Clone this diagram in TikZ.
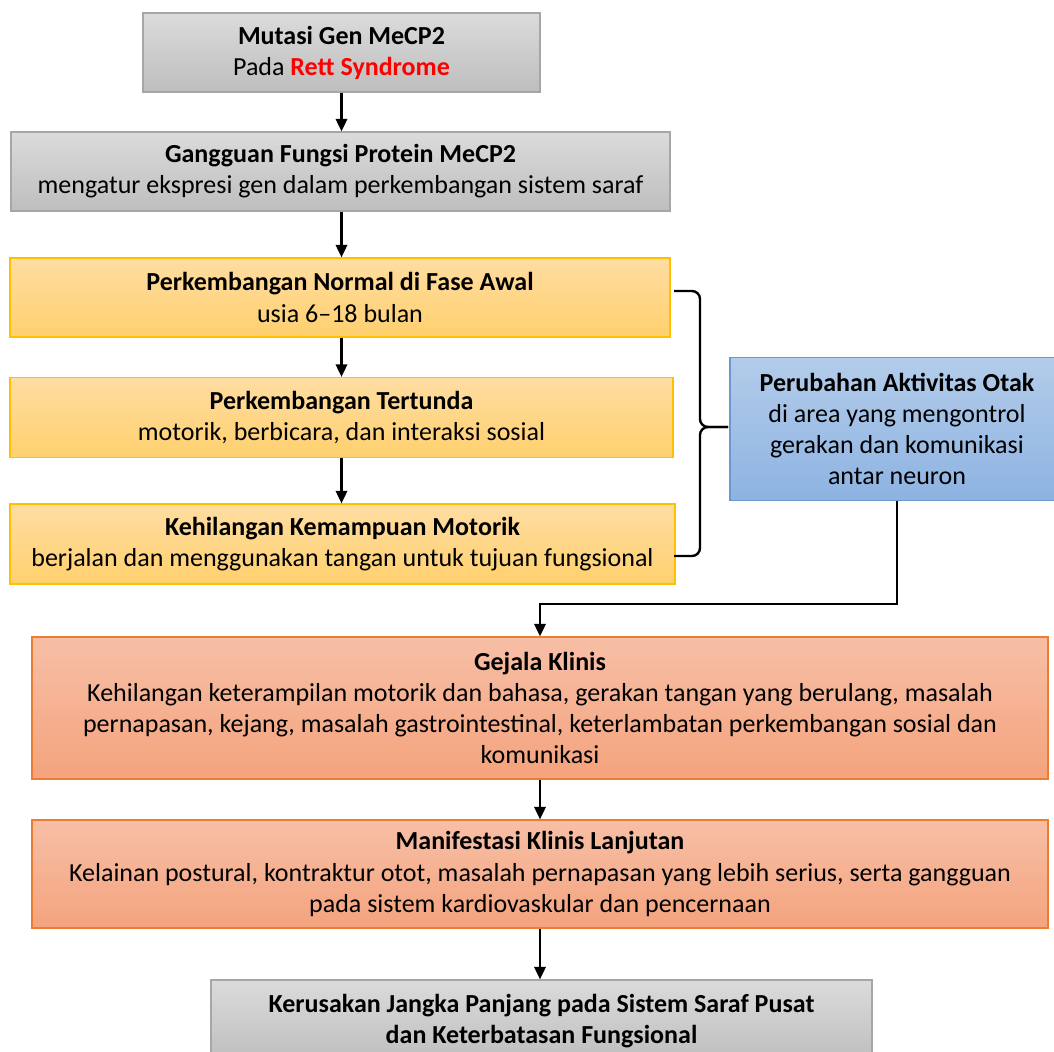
\documentclass[tikz,border=0pt]{standalone}
\usepackage{fontspec}
\setmainfont{Carlito}
\usetikzlibrary{positioning,arrows.meta}
\definecolor{greyA}{HTML}{DBDBDB}
\definecolor{greyB}{HTML}{BEBEBE}
\definecolor{greyL}{HTML}{A6A6A6}
\definecolor{yelA}{HTML}{FFDDA2}
\definecolor{yelB}{HTML}{FFD06E}
\definecolor{yelL}{HTML}{FFC000}
\definecolor{bluA}{HTML}{B3CCEA}
\definecolor{bluB}{HTML}{8DB3E2}
\definecolor{bluL}{HTML}{6D98CF}
\definecolor{salA}{HTML}{F7BFA6}
\definecolor{salB}{HTML}{F4A37D}
\definecolor{salL}{HTML}{ED7D31}

\begin{document}
\begin{tikzpicture}[x=0.75pt,y=-0.75pt,
box/.style={rectangle,draw,align=center,inner sep=0pt,line width=0.8pt,font=\fontsize{19.5}{23.3}\selectfont},
grey/.style={box,draw=greyL,top color=greyA,bottom color=greyB},
yel/.style={box,draw=yelL,top color=yelA,bottom color=yelB},
blu/.style={box,draw=bluL,top color=bluA,bottom color=bluB},
sal/.style={box,draw=salL,top color=salA,bottom color=salB},
arr/.style={-{Triangle[length=9.5pt,width=8.5pt]},line width=1.9pt},
brace/.style={line width=1.8pt,rounded corners=6pt}]
\useasboundingbox (0,0) rectangle (1054,1052);
\node [grey,minimum width=297.75pt,minimum height=59.25pt] (m) at (341.5,52.5)
	{\textbf{Mutasi Gen MeCP2}\\Pada \textcolor{red}{\textbf{Rett Syndrome}}};
\node [grey,minimum width=494.25pt,minimum height=59.25pt] (g) at (340.5,171.5)
	{\textbf{Gangguan Fungsi Protein MeCP2}\\mengatur ekspresi gen dalam perkembangan sistem saraf};
\node [yel,minimum width=495pt,minimum height=59.25pt] (p1) at (340,297.5)
	{\textbf{Perkembangan Normal di Fase Awal}\\usia 6--18 bulan};
\node [yel,minimum width=497.25pt,minimum height=60pt] (p2) at (341.5,417.5)
	{\textbf{Perkembangan Tertunda}\\motorik, berbicara, dan interaksi sosial};
\node [yel,minimum width=498.75pt,minimum height=60pt] (p3) at (342.5,544)
	{\textbf{Kehilangan Kemampuan Motorik}\\berjalan dan menggunakan tangan untuk tujuan fungsional};
\node [blu,minimum width=250.5pt,minimum height=107.25pt] (o) at (897,429)
	{\textbf{Perubahan Aktivitas Otak}\\di area yang mengontrol\\gerakan dan komunikasi\\antar neuron};
\node [sal,minimum width=762pt,minimum height=106.5pt] (k) at (540,708)
	{\textbf{Gejala Klinis}\\Kehilangan keterampilan motorik dan bahasa, gerakan tangan yang berulang, masalah\\pernapasan, kejang, masalah gastrointestinal, keterlambatan perkembangan sosial dan\\komunikasi};
\node [sal,minimum width=762pt,minimum height=81pt] (l) at (540,874)
	{\textbf{Manifestasi Klinis Lanjutan}\\Kelainan postural, kontraktur otot, masalah pernapasan yang lebih serius, serta gangguan\\pada sistem kardiovaskular dan pencernaan};
\node [grey,minimum width=495.75pt,minimum height=61.5pt] (s) at (541.5,1021)
	{\textbf{Kerusakan Jangka Panjang pada Sistem Saraf Pusat}\\\textbf{dan Keterbatasan Fungsional}};
% arrows
\draw[arr] (m.south) -- (m.south |- g.north);
\draw[arr] (m.south |- g.south) -- (m.south |- p1.north);
\draw[arr] (m.south |- p1.south) -- (m.south |- p2.north);
\draw[arr] (m.south |- p2.south) -- (m.south |- p3.north);
\draw[arr] (o.south) -- ++(0,103) -| (k.north);
\draw[arr] (k.south) -- (l.north);
\draw[arr] (l.south) -- (l.south |- s.north);
% brace
\coordinate (bt) at (674,291);
\coordinate (bb) at (674,556);
\coordinate (bm) at (700,427);
\coordinate (bx) at (728,427);
\draw[brace] (bt) -| (bm) -- (bx);
\draw[brace] (bx) -- (bm) |- (bb);
\end{tikzpicture}
\end{document}
